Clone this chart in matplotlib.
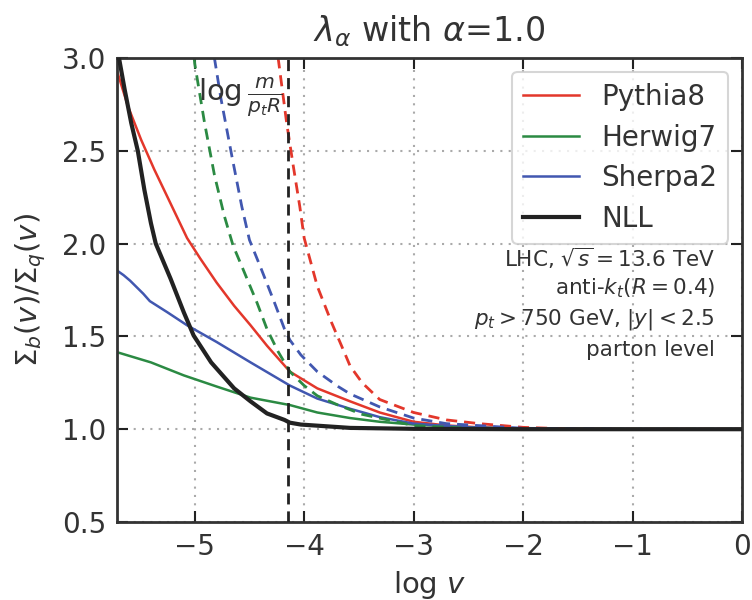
import matplotlib
matplotlib.use("Agg")
import matplotlib.pyplot as plt

# ---- data ----
x_pythia = [-5.71, -5.61, -5.49, -5.37, -5.24, -5.07, -4.95, -4.80, -4.64, -4.49, -4.34, -4.13,
            -3.88, -3.58, -3.31, -3.0, -2.7, -2.4, -2.0, -1.0, 0.0]
y_pythia = [2.93, 2.74, 2.56, 2.40, 2.24, 2.03, 1.92, 1.79, 1.665, 1.56, 1.45, 1.31,
            1.22, 1.15, 1.09, 1.04, 1.02, 1.01, 1.003, 1.0, 1.0]

x_herwig = [-5.71, -5.40, -5.10, -4.80, -4.49, -4.13, -3.88, -3.58, -3.31, -3.0, -2.5, -2.0, -1.0, 0.0]
y_herwig = [1.415, 1.36, 1.29, 1.23, 1.17, 1.13, 1.09, 1.06, 1.04, 1.025, 1.01, 1.003, 1.0, 1.0]

x_sherpa = [-5.71, -5.65, -5.59, -5.47, -5.41, -5.25, -5.07, -4.80, -4.49, -4.13, -3.88, -3.58,
            -3.31, -3.0, -2.5, -2.0, -1.0, 0.0]
y_sherpa = [1.855, 1.83, 1.80, 1.73, 1.69, 1.63, 1.56, 1.47, 1.36, 1.235, 1.165, 1.11,
            1.065, 1.03, 1.01, 1.003, 1.0, 1.0]

x_nll = [-5.71, -5.64, -5.58, -5.52, -5.46, -5.40, -5.356, -5.22, -5.10, -5.01, -4.85, -4.64,
         -4.49, -4.34, -4.18, -4.13, -4.03, -3.58, -3.0, -2.0, -1.0, 0.0]
y_nll = [3.06, 2.83, 2.65, 2.50, 2.29, 2.11, 2.0, 1.81, 1.63, 1.505, 1.36, 1.22,
         1.15, 1.085, 1.05, 1.035, 1.025, 1.007, 1.002, 1.0, 1.0, 1.0]

x_pythia_d = [-4.26, -4.24, -4.16, -4.10, -4.04, -4.0, -3.88, -3.75, -3.63, -3.58, -3.47, -3.31,
              -3.0, -2.7, -2.4, -2.0, -1.5, 0.0]
y_pythia_d = [3.1, 3.01, 2.65, 2.42, 2.20, 2.03, 1.77, 1.575, 1.41, 1.34, 1.25, 1.16,
              1.09, 1.05, 1.03, 1.01, 1.0, 1.0]

x_herwig_d = [-5.02, -5.0, -4.91, -4.82, -4.73, -4.65, -4.55, -4.43, -4.34, -4.24, -4.13, -4.0,
              -3.88, -3.69, -3.47, -3.0, -2.5, -2.0, 0.0]
y_herwig_d = [3.1, 2.97, 2.65, 2.37, 2.15, 1.99, 1.85, 1.68, 1.54, 1.42, 1.31, 1.235,
              1.18, 1.13, 1.08, 1.02, 1.005, 1.0, 1.0]

x_sherpa_d = [-4.84, -4.82, -4.76, -4.66, -4.57, -4.50, -4.39, -4.27, -4.18, -4.13, -4.03, -3.88,
              -3.69, -3.58, -3.31, -3.0, -2.7, -2.0, -1.0, 0.0]
y_sherpa_d = [3.1, 3.0, 2.78, 2.47, 2.20, 2.02, 1.86, 1.68, 1.54, 1.48, 1.40, 1.31,
              1.23, 1.19, 1.12, 1.06, 1.03, 1.005, 1.0, 1.0]

log_m_ptR = -4.15

labels = ["Pythia8", "Herwig7", "Sherpa2", "NLL"]
colors = ["#e3372b", "#2b8a43", "#4157b0", "#222222"]
info_lines = [r"LHC, $\sqrt{s}=13.6$ TeV",
              r"anti-$k_t(R=0.4)$",
              r"$p_t>750$ GeV, $|y|<2.5$",
              "parton level"]

x_ticks = [-5, -4, -3, -2, -1, 0]
y_ticks = [0.5, 1.0, 1.5, 2.0, 2.5, 3.0]

# ---- figure ----
TXT = "#333333"
plt.rcParams["font.family"] = ["DejaVu Sans"]
plt.rcParams["mathtext.fontset"] = "dejavusans"
plt.rcParams["lines.solid_joinstyle"] = "round"
plt.rcParams["lines.dash_joinstyle"] = "round"

fig = plt.figure(figsize=(7.52, 6.0), dpi=100)
ax = fig.add_axes([117/752, 1 - 522/600, 625/752, 464/600])

ax.plot(x_pythia, y_pythia, color=colors[0], lw=1.8, label=labels[0])
ax.plot(x_herwig, y_herwig, color=colors[1], lw=1.8, label=labels[1])
ax.plot(x_sherpa, y_sherpa, color=colors[2], lw=1.8, label=labels[2])
ax.plot(x_nll, y_nll, color=colors[3], lw=3.0, label=labels[3], zorder=5)

ax.plot(x_pythia_d, y_pythia_d, color=colors[0], lw=2.0, ls=(0, (4, 2.5)))
ax.plot(x_herwig_d, y_herwig_d, color=colors[1], lw=2.0, ls=(0, (4, 2.5)))
ax.plot(x_sherpa_d, y_sherpa_d, color=colors[2], lw=2.0, ls=(0, (4, 2.5)))

ax.axvline(log_m_ptR, color="#222222", lw=2.0, ls=(0, (4, 2.5)), zorder=6)
ax.text(log_m_ptR - 0.05, 2.79, r"$\log\frac{m}{p_tR}$", ha="right", va="center",
        fontsize=21, color=TXT)

ax.set_xlim(-5.71, 0)
ax.set_ylim(0.5, 3.0)
ax.set_xticks(x_ticks)
ax.set_yticks(y_ticks)
ax.set_xticklabels([str(t).replace("-", "\u2212") for t in x_ticks])
ax.set_yticklabels([f"{t:.1f}" for t in y_ticks])
ax.tick_params(direction="in", length=8, width=1.5, top=True, right=True,
               labelsize=20, colors="#222222", labelcolor=TXT, pad=8)
ax.grid(True, ls=(0, (1, 3)), color="#aaaaaa", lw=1.5)
for s in ax.spines.values():
    s.set_linewidth(2.0)
    s.set_color("#333333")

ax.set_xlabel(r"$\log\,v$", fontsize=21, color=TXT, labelpad=6)
ax.set_ylabel(r"$\Sigma_b(v)/\Sigma_q(v)$", fontsize=21, color=TXT, labelpad=10)
ax.set_title(r"$\lambda_\alpha$ with $\alpha$=1.0", fontsize=24, color=TXT, pad=12)

leg = ax.legend(loc="upper right", fontsize=20, frameon=True, fancybox=True,
                edgecolor="#cccccc", handlelength=2.0, borderaxespad=0.5,
                labelspacing=0.45, handletextpad=0.8)
leg.get_frame().set_linewidth(1.5)
for t in leg.get_texts():
    t.set_color(TXT)

y0 = 0.569
for i, line in enumerate(info_lines):
    ax.text(0.957, y0 - i * 0.066, line, transform=ax.transAxes, ha="right",
            va="center", fontsize=15.5, color=TXT)

fig.savefig("out.png", dpi=100)
